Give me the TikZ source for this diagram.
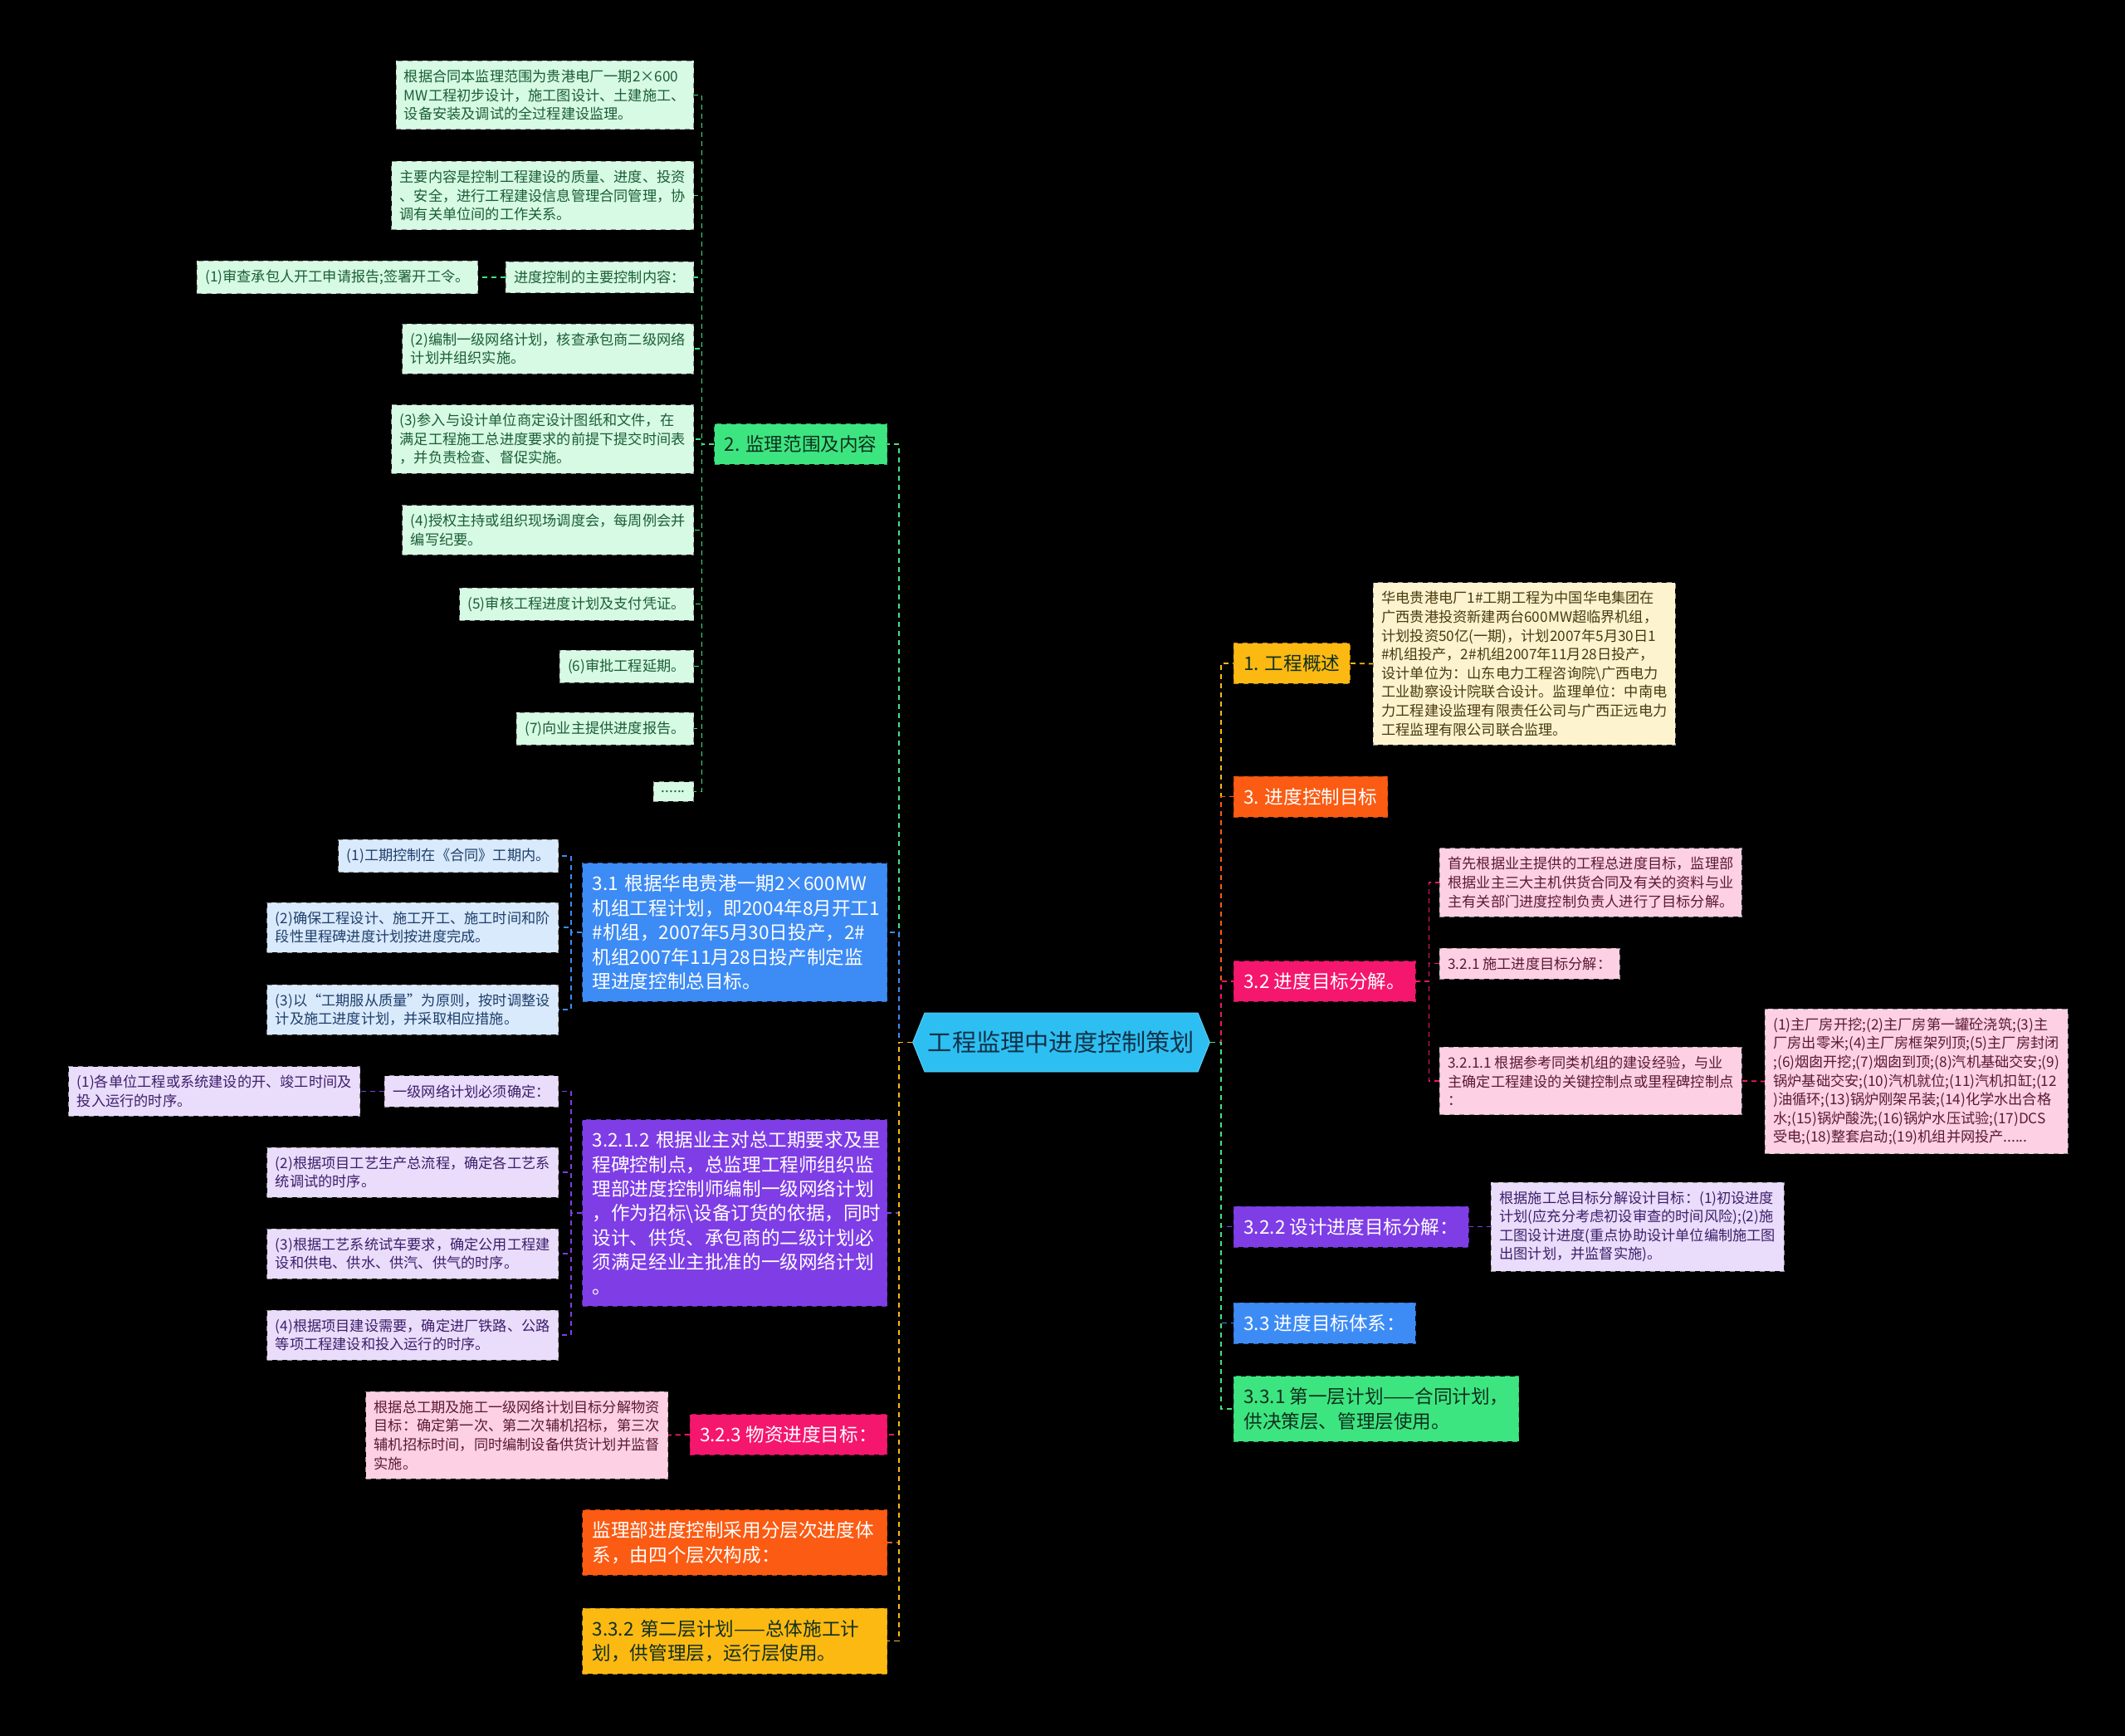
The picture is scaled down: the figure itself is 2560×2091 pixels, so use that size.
\documentclass[tikz,border=0pt]{standalone}
\usepackage{fontspec}
\setmainfont{Noto Sans CJK SC}
\usetikzlibrary{shapes.symbols, positioning}

\definecolor{rootc}{HTML}{2DBFF1}
\definecolor{roottxt}{HTML}{13324A}
\definecolor{cgreen}{HTML}{3DE580}
\definecolor{cblue}{HTML}{3D8BF5}
\definecolor{cpurple}{HTML}{7F3DE6}
\definecolor{cpink}{HTML}{F5166E}
\definecolor{corange}{HTML}{FB5B12}
\definecolor{cyellow}{HTML}{FCB912}
\definecolor{lgreen}{HTML}{D6FAE4}
\definecolor{tgreen}{HTML}{1B5E35}
\definecolor{lblue}{HTML}{D9EAFD}
\definecolor{tblue}{HTML}{1F3E6A}
\definecolor{lpurple}{HTML}{EADCFB}
\definecolor{tpurple}{HTML}{3D1F6A}
\definecolor{lpink}{HTML}{FDD0E3}
\definecolor{tpink}{HTML}{5B1A33}
\definecolor{lcream}{HTML}{FDF4CF}
\definecolor{tcream}{HTML}{4A3A10}
\definecolor{darktxt}{HTML}{10301E}

\newcommand\leaffont{\fontsize{8.6}{11.3}\selectfont}
\newcommand\topicfont{\fontsize{11.3}{14.7}\selectfont}
\newcommand\rootfont{\fontsize{14.6}{17}\selectfont}

\begin{document}
\begin{tikzpicture}[x=0.5pt, y=-0.5pt,
  root/.style={signal, signal to=west and east, signal pointer angle=136, fill=rootc, draw=rootc!70!white, minimum width=174.5pt, minimum height=35.5pt, inner sep=2pt, font=\rootfont, text=roottxt},
  topic/.style={draw=#1!75!black, dashed, fill=#1, inner xsep=6pt, inner ysep=7pt, align=left, font=\topicfont, text=white},
  wide/.style={text width=171.5pt},
  leaf/.style={draw=black!45, dashed, fill=#1, inner xsep=5pt, inner ysep=5.3pt, align=left, font=\leaffont},
  gleaf/.style={leaf=lgreen, text=tgreen}, bleaf/.style={leaf=lblue, text=tblue},
  pleaf/.style={leaf=lpurple, text=tpurple}, kleaf/.style={leaf=lpink, text=tpink},
  cleaf/.style={leaf=lcream, text=tcream},
  link/.style={draw=#1, line width=0.9pt, dash pattern=on 3pt off 2.5pt}]
\fill[black] (0,0) rectangle (2560,2091);

% centre
\node[root] (C) at (1278.5,1255.5) {工程监理中进度控制策划};
\coordinate (lt) at (1083,1255.5);
\coordinate (rt) at (1471,1255.5);

% left side
\node[topic=cgreen, text=darktxt, anchor=east] (G2) at (1069,535) {2. 监理范围及内容};
\node[topic=cblue, wide, anchor=east] (S31) at (1069,1123) {3.1 根据华电贵港一期2×600MW\\机组工程计划，即2004年8月开工1\\\#机组，2007年5月30日投产，2\#\\机组2007年11月28日投产制定监\\理进度控制总目标。};
\node[topic=cpurple, wide, anchor=east] (S3212) at (1069,1461) {3.2.1.2~根据业主对总工期要求及里\\程碑控制点，总监理工程师组织监\\理部进度控制师编制一级网络计划\\，作为招标\textbackslash 设备订货的依据，同时\\设计、供货、承包商的二级计划必\\须满足经业主批准的一级网络计划\\。};
\node[topic=cpink, anchor=east] (S323) at (1069,1728) {3.2.3 物资进度目标：};
\node[topic=corange, wide, anchor=east] (SJL) at (1069,1858) {监理部进度控制采用分层次进度体\\系，由四个层次构成：};
\node[topic=cyellow, wide, text=darktxt, anchor=east] (S332) at (1069,1976.5) {3.3.2 第二层计划——总体施工计\\划，供管理层，运行层使用。};

% 2. leaves
\node[gleaf, anchor=east] (L1) at (836,114.5) {根据合同本监理范围为贵港电厂一期2×600\\MW工程初步设计，施工图设计、土建施工、\\设备安装及调试的全过程建设监理。};
\node[gleaf, anchor=east] (L2) at (836,235.5) {主要内容是控制工程建设的质量、进度、投资\\、安全，进行工程建设信息管理合同管理，协\\调有关单位间的工作关系。};
\node[gleaf, anchor=east] (L3) at (836,334) {进度控制的主要控制内容：};
\node[gleaf, anchor=east] (L3a) at (576,334) {(1)审查承包人开工申请报告;签署开工令。};
\node[gleaf, anchor=east] (L4) at (836,420) {(2)编制一级网络计划，核查承包商二级网络\\计划并组织实施。};
\node[gleaf, anchor=east] (L5) at (836,529) {(3)参入与设计单位商定设计图纸和文件，在\\满足工程施工总进度要求的前提下提交时间表\\，并负责检查、督促实施。};
\node[gleaf, anchor=east] (L6) at (836,638.5) {(4)授权主持或组织现场调度会，每周例会并\\编写纪要。};
\node[gleaf, anchor=east] (L7) at (836,727.5) {(5)审核工程进度计划及支付凭证。};
\node[gleaf, anchor=east] (L8) at (836,802.5) {(6)审批工程延期。};
\node[gleaf, anchor=east] (L9) at (836,877.5) {(7)向业主提供进度报告。};
\node[gleaf, anchor=east] (L10) at (836,953.5) {......};

% 3.1 leaves
\node[bleaf, anchor=east] (B1) at (673,1031) {(1)工期控制在《合同》工期内。};
\node[bleaf, anchor=east] (B2) at (673,1117) {(2)确保工程设计、施工开工、施工时间和阶\\段性里程碑进度计划按进度完成。};
\node[bleaf, anchor=east] (B3) at (673,1216) {(3)以“工期服从质量”为原则，按时调整设\\计及施工进度计划，并采取相应措施。};

% 3.2.1.2 leaves
\node[pleaf, anchor=east] (P1) at (673,1314.5) {一级网络计划必须确定：};
\node[pleaf, anchor=east] (P1a) at (434,1314.5) {(1)各单位工程或系统建设的开、竣工时间及\\投入运行的时序。};
\node[pleaf, anchor=east] (P2) at (673,1412) {(2)根据项目工艺生产总流程，确定各工艺系\\统调试的时序。};
\node[pleaf, anchor=east] (P3) at (673,1510) {(3)根据工艺系统试车要求，确定公用工程建\\设和供电、供水、供汽、供气的时序。};
\node[pleaf, anchor=east] (P4) at (673,1608) {(4)根据项目建设需要，确定进厂铁路、公路\\等项工程建设和投入运行的时序。};

% 3.2.3 leaf
\node[kleaf, anchor=east] (K1) at (805,1728.5) {根据总工期及施工一级网络计划目标分解物资\\目标：确定第一次、第二次辅机招标，第三次\\辅机招标时间，同时编制设备供货计划并监督\\实施。};

% right side
\node[topic=cyellow, text=darktxt, anchor=west] (R1) at (1486,799) {1. 工程概述};
\node[cleaf, anchor=west] (R1a) at (1654,799.5) {华电贵港电厂1\#工期工程为中国华电集团在\\广西贵港投资新建两台600MW超临界机组，\\计划投资50亿(一期)，计划2007年5月30日1\\\#机组投产，2\#机组2007年11月28日投产，\\设计单位为：山东电力工程咨询院\textbackslash 广西电力\\工业勘察设计院联合设计。监理单位：中南电\\力工程建设监理有限责任公司与广西正远电力\\工程监理有限公司联合监理。};
\node[topic=corange, anchor=west] (R2) at (1486,959.5) {3. 进度控制目标};
\node[topic=cpink, anchor=west] (R3) at (1486,1182) {3.2 进度目标分解。};
\node[kleaf, anchor=west] (R3a) at (1734,1063) {首先根据业主提供的工程总进度目标，监理部\\根据业主三大主机供货合同及有关的资料与业\\主有关部门进度控制负责人进行了目标分解。};
\node[kleaf, anchor=west] (R3b) at (1734,1160.5) {3.2.1 施工进度目标分解：};
\node[kleaf, anchor=west] (R3c) at (1734,1302) {3.2.1.1 根据参考同类机组的建设经验，与业\\主确定工程建设的关键控制点或里程碑控制点\\：};
\node[kleaf, anchor=west] (R3d) at (2126,1302.5) {(1)主厂房开挖;(2)主厂房第一罐砼浇筑;(3)主\\厂房出零米;(4)主厂房框架列顶;(5)主厂房封闭\\;(6)烟囱开挖;(7)烟囱到顶;(8)汽机基础交安;(9)\\锅炉基础交安;(10)汽机就位;(11)汽机扣缸;(12\\)油循环;(13)锅炉刚架吊装;(14)化学水出合格\\水;(15)锅炉酸洗;(16)锅炉水压试验;(17)DCS\\受电;(18)整套启动;(19)机组并网投产......};
\node[topic=cpurple, anchor=west] (R4) at (1486,1477.5) {3.2.2 设计进度目标分解：};
\node[pleaf, anchor=west] (R4a) at (1796,1477.5) {根据施工总目标分解设计目标：(1)初设进度\\计划(应充分考虑初设审查的时间风险);(2)施\\工图设计进度(重点协助设计单位编制施工图\\出图计划，并监督实施)。};
\node[topic=cblue, anchor=west] (R5) at (1486,1593.5) {3.3 进度目标体系：};
\node[topic=cgreen, text=darktxt, anchor=west] (R6) at (1486,1697) {3.3.1 第一层计划——合同计划，\\供决策层、管理层使用。};

% links from the centre
\draw[link=cgreen] (C.west) -- (lt) |- (G2.east); \draw[link=cblue] (C.west) -- (lt) |- (S31.east);
\draw[link=cpurple] (C.west) -- (lt) |- (S3212.east); \draw[link=cpink] (C.west) -- (lt) |- (S323.east);
\draw[link=corange] (C.west) -- (lt) |- (SJL.east); \draw[link=cyellow] (C.west) -- (lt) |- (S332.east);
\draw[link=cyellow] (C.east) -- (rt) |- (R1.west); \draw[link=corange] (C.east) -- (rt) |- (R2.west);
\draw[link=cpink] (C.east) -- (rt) |- (R3.west); \draw[link=cpurple] (C.east) -- (rt) |- (R4.west);
\draw[link=cblue] (C.east) -- (rt) |- (R5.west); \draw[link=cgreen] (C.east) -- (rt) |- (R6.west);

% links to the leaves
\draw[link=cgreen] (G2.west) -- ++(-15,0) |- (L1.east); \draw[link=cgreen] (G2.west) -- ++(-15,0) |- (L2.east);
\draw[link=cgreen] (G2.west) -- ++(-15,0) |- (L3.east); \draw[link=cgreen] (G2.west) -- ++(-15,0) |- (L4.east);
\draw[link=cgreen] (G2.west) -- ++(-15,0) |- (L5.east); \draw[link=cgreen] (G2.west) -- ++(-15,0) |- (L6.east);
\draw[link=cgreen] (G2.west) -- ++(-15,0) |- (L7.east); \draw[link=cgreen] (G2.west) -- ++(-15,0) |- (L8.east);
\draw[link=cgreen] (G2.west) -- ++(-15,0) |- (L9.east); \draw[link=cgreen] (G2.west) -- ++(-15,0) |- (L10.east);
\draw[link=cgreen] (L3.west) -- (L3a.east);
\draw[link=cblue] (S31.west) -- ++(-13,0) |- (B1.east); \draw[link=cblue] (S31.west) -- ++(-13,0) |- (B2.east);
\draw[link=cblue] (S31.west) -- ++(-13,0) |- (B3.east);
\draw[link=cpurple] (S3212.west) -- ++(-13,0) |- (P1.east); \draw[link=cpurple] (S3212.west) -- ++(-13,0) |- (P2.east);
\draw[link=cpurple] (S3212.west) -- ++(-13,0) |- (P3.east); \draw[link=cpurple] (S3212.west) -- ++(-13,0) |- (P4.east);
\draw[link=cpurple] (P1.west) -- (P1a.east);
\draw[link=cpink] (S323.west) -- (K1.east);
\draw[link=cyellow] (R1.east) -- (R1a.west);
\draw[link=cpink] (R3.east) -- ++(16,0) |- (R3a.west); \draw[link=cpink] (R3.east) -- ++(16,0) |- (R3b.west);
\draw[link=cpink] (R3.east) -- ++(16,0) |- (R3c.west); \draw[link=cpink] (R3c.east) -- (R3d.west);
\draw[link=cpurple] (R4.east) -- (R4a.west);
\end{tikzpicture}
\end{document}
